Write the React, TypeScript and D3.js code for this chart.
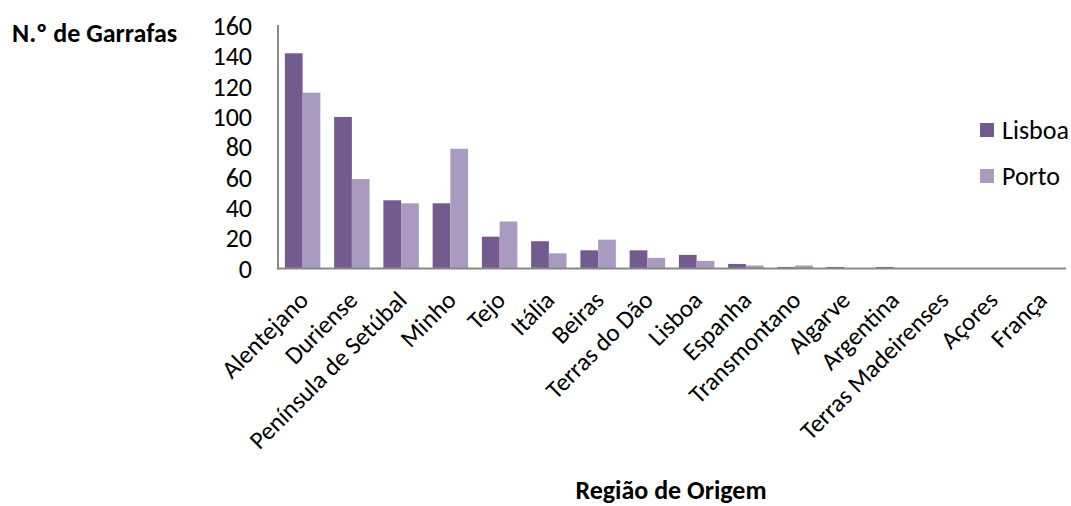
import { useEffect, useRef } from 'react';
import * as d3 from 'd3';

const categories = [
  'Alentejano', 'Duriense', 'Península de Setúbal', 'Minho', 'Tejo', 'Itália',
  'Beiras', 'Terras do Dão', 'Lisboa', 'Espanha', 'Transmontano', 'Algarve',
  'Argentina', 'Terras Madeirenses', 'Açores', 'França',
];
const lisboaValues = [142, 100, 45, 43, 21, 18, 12, 12, 9, 3, 1, 1, 1, 0, 0, 0];
const portoValues = [116, 59, 43, 79, 31, 10, 19, 7, 5, 2, 2, 0, 0, 0, 0, 0];
const seriesNames = ['Lisboa', 'Porto'];
const seriesColors = ['#735a8f', '#a99bbf'];
const yTicks = [0, 20, 40, 60, 80, 100, 120, 140, 160];

const FONT = 'Carlito, "Open Sans", sans-serif';

const App: React.FC = () => {
  const svgRef = useRef<SVGSVGElement>(null);

  useEffect(() => {
    if (!svgRef.current) return;
    const svg = d3.select(svgRef.current);
    svg.selectAll('*').remove();

    const left = 278, right = 1066, top = 26, bottom = 268.5;

    const x = d3.scaleBand<string>().domain(categories).range([left, right]).paddingInner(0.28).paddingOuter(0.14);
    const xs = d3.scaleBand<string>().domain(seriesNames).range([0, x.bandwidth()]);
    const y = d3.scaleLinear().domain([0, 160]).range([bottom, top]);

    const values = [lisboaValues, portoValues];

    // bars
    values.forEach((vals, si) => {
      svg.append('g')
        .selectAll('rect')
        .data(categories)
        .enter().append('rect')
        .attr('x', d => (x(d) as number) + (xs(seriesNames[si]) as number))
        .attr('y', (_d, i) => y(vals[i]))
        .attr('width', xs.bandwidth())
        .attr('height', (_d, i) => bottom - y(vals[i]))
        .style('fill', seriesColors[si]);
    });

    // axes lines
    svg.append('line')
      .attr('x1', left).attr('x2', left).attr('y1', top - 1).attr('y2', bottom + 1)
      .style('stroke', '#888').style('stroke-width', 2);
    svg.append('line')
      .attr('x1', left - 1).attr('x2', right).attr('y1', bottom).attr('y2', bottom)
      .style('stroke', '#888').style('stroke-width', 2);

    // y tick labels
    svg.append('g')
      .selectAll('text')
      .data(yTicks)
      .enter().append('text')
      .attr('x', 252)
      .attr('y', d => y(d))
      .attr('dy', '0.35em')
      .attr('text-anchor', 'end')
      .style('font-family', FONT)
      .style('font-size', '26px')
      .style('fill', '#000')
      .text(d => d);

    // x category labels
    svg.append('g')
      .selectAll('text')
      .data(categories)
      .enter().append('text')
      .attr('transform', d => `translate(${(x(d) as number) + x.bandwidth() / 2 + 1},${bottom + 27}) rotate(-45)`)
      .attr('text-anchor', 'end')
      .attr('dy', '0.35em')
      .style('font-family', FONT)
      .style('font-size', '25px')
      .style('fill', '#000')
      .text(d => d);

    // axis titles
    svg.append('text')
      .attr('x', 12).attr('y', 33).attr('dy', '0.35em')
      .style('font-family', FONT).style('font-size', '26px').style('font-weight', 'bold')
      .text('N.º de Garrafas');
    svg.append('text')
      .attr('x', 671).attr('y', 499)
      .attr('text-anchor', 'middle')
      .style('font-family', FONT).style('font-size', '26px').style('font-weight', 'bold')
      .text('Região de Origem');

    // legend
    const legend = svg.append('g');
    seriesNames.forEach((name, i) => {
      const cy = 130 + i * 46;
      legend.append('rect')
        .attr('x', 980).attr('y', cy - 7).attr('width', 14).attr('height', 14)
        .style('fill', seriesColors[i]);
      legend.append('text')
        .attr('x', 1002).attr('y', cy).attr('dy', '0.35em')
        .style('font-family', FONT).style('font-size', '26px')
        .text(name);
    });
  }, []);

  return (
    <svg ref={svgRef} width={1071} height={506}
      style={{ position: 'absolute', left: 0, top: 0, background: '#fff' }} />
  );
};

export default App;
